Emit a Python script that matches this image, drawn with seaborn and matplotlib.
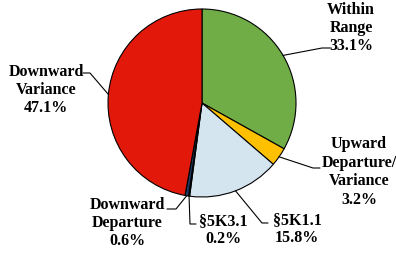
import numpy as np
import seaborn as sns
import matplotlib.pyplot as plt

# datos
categorias = ['Within\nRange', 'Upward\nDeparture/\nVariance', '§5K1.1', '§5K3.1',
              'Downward\nDeparture', 'Downward\nVariance']
porcentajes = [33.1, 3.2, 15.8, 0.2, 0.6, 47.1]
colores = ['#70AD47', '#FFC000', '#D5E5F0', '#404040', '#1F3864', '#E2180A']

# posiciones de etiquetas en pixeles (x, y desde arriba): texto, codo, fin de linea
pos_texto = [(351, 28), (359, 172), (297, 229), (223, 230), (127, 223), (46, 90)]
pos_codo = [(322, 48), (313, 168), (262, 223), (190, 224), (176, 209), (90, 73)]
pos_fin = [(330, 48), (320, 168), (268, 223), (196, 224), (167, 209), (83, 73)]

sns.set_theme(style='white')
plt.rcParams['font.family'] = ['Liberation Serif', 'DejaVu Serif']

W, H = 396, 254
fig = plt.figure(figsize=(W / 100, H / 100), dpi=100)
ax = fig.add_axes([0, 0, 1, 1])

centro = (202, H - 103)
radio = 94
wedges, _ = ax.pie(porcentajes, colors=colores, startangle=90, counterclock=False,
                   center=centro, radius=radio, frame=True,
                   wedgeprops={'edgecolor': 'black', 'linewidth': 0.8})
ax.set_xlim(0, W)
ax.set_ylim(0, H)
ax.axis('off')

for w, cat, p, t, c, f in zip(wedges, categorias, porcentajes, pos_texto, pos_codo, pos_fin):
    ang = np.deg2rad((w.theta1 + w.theta2) / 2)
    bx = centro[0] + radio * np.cos(ang)
    by = centro[1] + radio * np.sin(ang)
    ax.plot([bx, c[0], f[0]], [by, H - c[1], H - f[1]], color='black', lw=0.8)
    ax.text(t[0], H - t[1], f'{cat}\n{p:.1f}%', ha='center', va='center',
            multialignment='center', fontsize=11.5, fontweight='bold',
            linespacing=1.2, color='black')

fig.savefig('out.png', dpi=100)
